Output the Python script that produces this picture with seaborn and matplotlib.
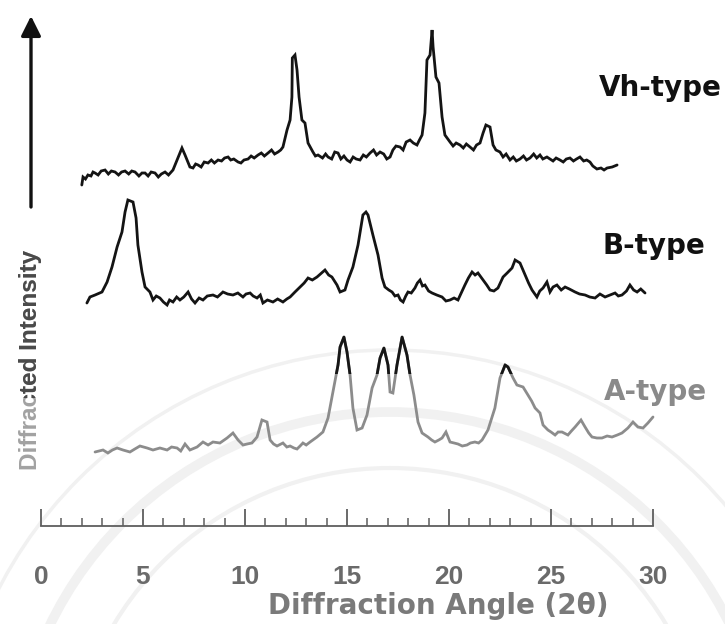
import numpy as np
import pandas as pd
import matplotlib
matplotlib.use("Agg")
import matplotlib.pyplot as plt
from matplotlib.patches import Circle, Rectangle
from matplotlib.transforms import Bbox, TransformedBbox
import seaborn as sns

# ---- diffraction patterns (2-theta in degrees, intensity in arbitrary units) ----
vh_angle = [2.00, 2.06, 2.18, 2.30, 2.45, 2.55, 2.65, 2.80, 2.95, 3.14, 3.30, 3.45, 3.63,
            3.80, 3.95, 4.12, 4.30, 4.45, 4.61, 4.80, 4.95, 5.10, 5.25, 5.40, 5.59, 5.75,
            5.90, 6.08, 6.25, 6.47, 6.67, 6.91, 7.06, 7.30, 7.45, 7.58, 7.70, 7.85, 8.00,
            8.19, 8.35, 8.50, 8.68, 8.85, 9.00, 9.17, 9.30, 9.45, 9.66, 9.80, 9.95, 10.15,
            10.30, 10.45, 10.64, 10.80, 10.95, 11.13, 11.30, 11.45, 11.62, 11.75, 11.86,
            12.06, 12.21, 12.30, 12.32, 12.45, 12.55, 12.65, 12.79, 12.94, 13.09, 13.33,
            13.45, 13.58, 13.80, 13.95, 14.07, 14.25, 14.40, 14.56, 14.70, 14.85, 15.00,
            15.15, 15.30, 15.45, 15.64, 15.80, 15.95, 16.13, 16.30, 16.45, 16.62, 16.80,
            16.95, 17.11, 17.25, 17.40, 17.60, 17.75, 17.90, 18.09, 18.25, 18.43, 18.55,
            18.68, 18.82, 18.92, 19.07, 19.17, 19.22, 19.36, 19.51, 19.66, 19.80, 20.05,
            20.20, 20.35, 20.54, 20.70, 20.85, 21.03, 21.20, 21.35, 21.52, 21.67, 21.81,
            22.01, 22.16, 22.30, 22.50, 22.65, 22.80, 22.99, 23.15, 23.30, 23.48, 23.65,
            23.80, 23.97, 24.15, 24.30, 24.46, 24.60, 24.80, 24.95, 25.10, 25.25, 25.44,
            25.60, 25.75, 25.93, 26.10, 26.25, 26.42, 26.60, 26.75, 26.91, 27.05, 27.25,
            27.45, 27.60, 27.75, 28.00, 28.24]
vh_intensity = [5, 13, 11, 15, 14, 18, 17, 15, 19, 20, 16, 19, 18,
                15, 18, 19, 16, 19, 18, 14, 17, 17, 14, 18, 17, 13,
                16, 18, 15, 20, 30, 42, 35, 23, 22, 26, 25, 23, 28,
                27, 30, 27, 30, 29, 32, 33, 30, 31, 28, 27, 30, 31,
                34, 32, 35, 37, 34, 37, 40, 36, 38, 40, 43,
                60, 70, 93, 132, 135, 120, 93, 70, 67, 47, 38,
                34, 35, 32, 36, 33, 31, 38, 37, 31, 34, 30,
                28, 33, 31, 30, 35, 33, 37, 40, 35, 38, 36,
                31, 33, 40, 44, 43, 40, 48, 50, 47, 45, 50,
                55, 77, 130, 135, 160, 143, 113, 107, 73, 55, 48,
                44, 47, 45, 42, 46, 43, 40, 45, 47, 57, 65,
                63, 45, 40, 38, 33, 36, 30, 33, 29, 31, 34,
                30, 32, 36, 32, 35, 31, 33, 31, 29, 32, 30,
                28, 31, 32, 29, 31, 33, 29, 30, 28, 24, 21,
                22, 20, 22, 23, 25]

b_angle = [2.25, 2.40, 2.65, 2.99, 3.24, 3.48, 3.73, 3.97, 4.12, 4.26, 4.51, 4.66, 4.75,
           4.95, 5.10, 5.34, 5.49, 5.65, 5.83, 6.00, 6.18, 6.30, 6.47, 6.65, 6.81, 7.00,
           7.21, 7.38, 7.55, 7.75, 7.94, 8.15, 8.43, 8.65, 8.92, 9.15, 9.41, 9.65, 9.90,
           10.05, 10.25, 10.40, 10.59, 10.75, 10.88, 11.10, 11.37, 11.60, 11.86, 12.05,
           12.21, 12.45, 12.70, 12.90, 13.09, 13.30, 13.53, 13.70, 13.92, 14.10, 14.26,
           14.51, 14.66, 14.90, 15.05, 15.29, 15.54, 15.78, 15.93, 16.03, 16.27, 16.52,
           16.72, 16.86, 17.05, 17.21, 17.35, 17.50, 17.62, 17.75, 17.88, 17.99, 18.15,
           18.33, 18.45, 18.58, 18.70, 18.82, 19.00, 19.17, 19.40, 19.66, 19.85, 20.05,
           20.25, 20.44, 20.60, 20.78, 20.95, 21.13, 21.28, 21.42, 21.67, 21.85, 22.01,
           22.20, 22.40, 22.65, 22.85, 23.09, 23.24, 23.48, 23.73, 23.90, 24.07, 24.31,
           24.45, 24.61, 24.80, 24.95, 25.10, 25.29, 25.50, 25.69, 25.90, 26.18, 26.40,
           26.67, 26.90, 27.16, 27.40, 27.65, 27.90, 28.14, 28.30, 28.48, 28.70, 28.87,
           29.05, 29.22, 29.40, 29.61]
b_intensity = [2, 8, 10, 13, 23, 38, 58, 73, 93, 105, 103, 87, 60,
               33, 18, 13, 5, 9, 7, 3, 0, 5, 3, 8, 5, 8,
               13, 6, 2, 7, 5, 9, 10, 8, 13, 11, 10, 12, 8,
               11, 12, 9, 7, 10, 2, 5, 3, 6, 3, 6,
               8, 13, 18, 22, 27, 25, 28, 31, 35, 30, 28,
               20, 13, 15, 25, 38, 60, 90, 93, 90, 70, 50,
               27, 18, 15, 13, 9, 10, 5, 3, 9, 13, 12,
               17, 22, 25, 19, 20, 14, 12, 10, 8, 4, 5,
               7, 5, 12, 20, 27, 33, 30, 32, 25, 20, 15,
               14, 17, 28, 32, 37, 45, 42, 30, 22, 15, 8,
               14, 17, 23, 13, 18, 20, 15, 18, 16, 13, 11,
               10, 8, 7, 11, 8, 10, 12, 9, 10, 14, 20,
               15, 13, 16, 12]

a_angle = [2.65, 3.04, 3.28, 3.50, 3.73, 4.02, 4.36, 4.60, 4.85, 5.20, 5.49, 5.83, 6.18,
           6.40, 6.67, 6.85, 7.06, 7.30, 7.65, 7.94, 8.19, 8.43, 8.77, 9.12, 9.41, 9.66,
           9.90, 10.10, 10.34, 10.59, 10.83, 11.08, 11.23, 11.40, 11.57, 11.86, 12.05,
           12.21, 12.40, 12.55, 12.70, 12.84, 13.00, 13.19, 13.53, 13.82, 14.07, 14.31,
           14.56, 14.66, 14.85, 15.00, 15.15, 15.29, 15.49, 15.74, 15.98, 16.23, 16.47,
           16.62, 16.81, 17.01, 17.11, 17.25, 17.45, 17.70, 17.94, 18.09, 18.28, 18.48,
           18.68, 18.97, 19.15, 19.31, 19.50, 19.66, 19.85, 20.05, 20.25, 20.44, 20.65,
           20.88, 21.05, 21.27, 21.45, 21.62, 21.91, 22.25, 22.50, 22.75, 22.89, 23.14,
           23.33, 23.63, 23.87, 24.05, 24.22, 24.46, 24.61, 24.85, 25.00, 25.20, 25.35,
           25.54, 25.83, 26.00, 26.18, 26.47, 26.67, 26.85, 27.01, 27.25, 27.50, 27.75,
           27.99, 28.25, 28.48, 28.77, 29.02, 29.26, 29.51, 29.75, 30.00]
a_intensity = [4, 6, 3, 6, 8, 6, 4, 7, 10, 8, 6, 8, 6,
               9, 8, 5, 12, 6, 9, 14, 11, 14, 13, 18, 23, 16,
               11, 12, 13, 19, 36, 34, 16, 12, 10, 13, 9,
               10, 8, 7, 10, 13, 11, 14, 19, 24, 38, 64,
               91, 109, 119, 104, 81, 48, 26, 28, 41, 68, 81,
               98, 108, 91, 64, 63, 91, 119, 101, 81, 61, 34,
               23, 19, 16, 14, 16, 18, 24, 14, 13, 12, 10,
               11, 13, 14, 13, 16, 26, 48, 78, 91, 89, 78,
               71, 69, 61, 55, 48, 43, 31, 26, 24, 21, 24,
               24, 21, 25, 29, 36, 29, 23, 19, 18, 18, 20,
               19, 21, 23, 28, 34, 29, 28, 33, 39]

pattern_names = ["Vh-type", "B-type", "A-type"]
stack_offsets = [336, 221, 70]
tick_values = [0, 5, 10, 15, 20, 25, 30]

sns.set_theme(style="white")
plt.rcParams["font.family"] = ["DejaVu Sans"]

W, H = 725, 624
RULER_Y = 526  # pixel row of the 2-theta ruler
fig = plt.figure(figsize=(W / 100, H / 100), dpi=100)

# background layer in pixel units (faint seal watermark + intensity arrow)
bg = fig.add_axes([0, 0, 1, 1])
bg.set_xlim(0, W)
bg.set_ylim(H, 0)
bg.axis("off")
for r, lw in [(440, 2.5), (378, 7), (322, 3)]:
    bg.add_patch(Circle((390, 790), r, fill=False, ec="#f1f1f1", lw=lw, zorder=0))
bg.annotate("", xy=(31, 16), xytext=(31, 207),
            arrowprops=dict(arrowstyle="-|>", lw=2.4, color="#111111",
                            mutation_scale=30, shrinkA=0, shrinkB=0))

# main plotting axes: bottom spine is the 2-theta ruler
ax = fig.add_axes([41 / W, 1 - RULER_Y / H, (653 - 41) / W, RULER_Y / H])
ax.patch.set_alpha(0)
ax.set_xlim(0, 30)
ax.set_ylim(0, RULER_Y)

frames = []
for name, ang, inten, off in zip(pattern_names,
                                 [vh_angle, b_angle, a_angle],
                                 [vh_intensity, b_intensity, a_intensity],
                                 stack_offsets):
    frames.append(pd.DataFrame({"angle": ang,
                                "signal": np.asarray(inten, float) + off,
                                "pattern": name}))
df = pd.concat(frames, ignore_index=True)

palette = {"Vh-type": "#141414", "B-type": "#141414", "A-type": "#8c8c8c"}
sns.lineplot(data=df, x="angle", y="signal", hue="pattern", units="pattern",
             estimator=None, sort=False, palette=palette, linewidth=2.0,
             legend=False, ax=ax)
for ln in ax.lines:
    ln.set_clip_on(False)
    ln.set_solid_joinstyle("miter")

# darker rendering of the strongest A-type reflections
a_df = df[df["pattern"] == "A-type"]
top = ax.plot(a_df["angle"], a_df["signal"], color="#161616", lw=2.0)[0]
top.set_clip_path(Rectangle((0, stack_offsets[2] + 82), 31, 200,
                            transform=ax.transData))

for s in ["left", "top", "right"]:
    ax.spines[s].set_visible(False)
ax.spines["bottom"].set_color("#5e5e5e")
ax.spines["bottom"].set_linewidth(1.3)
ax.set_yticks([])
ax.set_xticks(tick_values)
ax.set_xticks(range(0, 31), minor=True)
ax.set_xticklabels([str(t) for t in tick_values],
                   fontdict=dict(family="Liberation Sans", weight="bold"))
ax.tick_params(axis="x", which="both", bottom=True, direction="in", color="#5e5e5e")
ax.tick_params(axis="x", which="major", length=12, width=1.3,
               pad=28, labelsize=19, labelcolor="#6a6a6a")
ax.tick_params(axis="x", which="minor", length=6, width=1.1)
ax.set_xlabel("")
ax.set_ylabel("")

fig.text(438 / W, 1 - 606 / H, "Diffraction Angle (2θ)", ha="center", va="center",
         fontsize=20, weight="bold", color="#7a7a7a")

# series labels
for name, x_px, y_px, col in [("Vh-type", 722, 96, "#111111"),
                              ("B-type", 705, 254, "#111111"),
                              ("A-type", 707, 400, "#8a8a8a")]:
    fig.text(x_px / W, 1 - y_px / H, name, ha="right", va="baseline",
             fontsize=20, weight="bold", color=col)

# intensity axis label, lower part lighter than upper part
ylab_kw = dict(rotation=90, ha="center", va="center", fontsize=17.5,
               family="Liberation Sans", weight="bold")
fig.text(31 / W, 1 - 360 / H, "Diffracted Intensity", color="#a2a2a2", **ylab_kw)
dark = fig.text(31 / W, 1 - 360 / H, "Diffracted Intensity", color="#4a4a4a", **ylab_kw)
dark.set_clip_box(TransformedBbox(Bbox.from_extents(0, 1 - 398 / H, 1, 1),
                                  fig.transFigure))
dark.set_clip_on(True)

fig.savefig("out.png", dpi=100)
